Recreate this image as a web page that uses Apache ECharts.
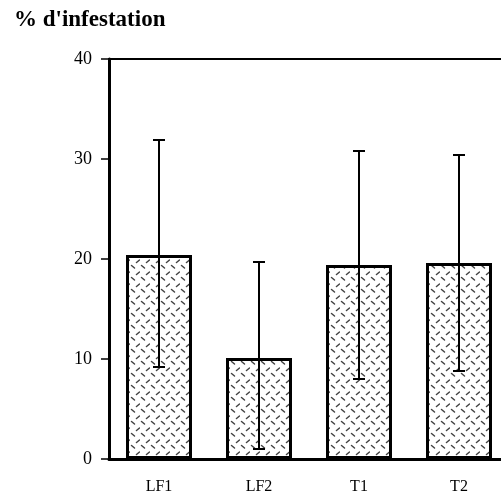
<!DOCTYPE html>
<html><head><meta charset="utf-8">
<script src="https://cdn.jsdelivr.net/npm/echarts@6/dist/echarts.min.js"></script>
<style>html,body{margin:0;padding:0;background:#fff}#c{width:501px;height:493px}</style>
</head><body><div id="c"></div>
<script>
const categories = ['LF1', 'LF2', 'T1', 'T2'];
const means = [20.4, 10.1, 19.4, 19.6];
const lows = [9.2, 1.0, 8.0, 8.8];
const highs = [31.9, 19.7, 30.8, 30.4];
const yTicks = [0, 10, 20, 30, 40];

function makePattern() {
  const c = document.createElement('canvas');
  c.width = 10; c.height = 12;
  const g = c.getContext('2d');
  g.fillStyle = '#fff'; g.fillRect(0, 0, 10, 12);
  g.strokeStyle = '#444'; g.lineWidth = 1.5; g.lineCap = 'round';
  g.beginPath(); g.moveTo(1.5, 1.5); g.lineTo(4.5, 4); g.stroke();
  g.beginPath(); g.moveTo(6.5, 10.5); g.lineTo(9.5, 8); g.stroke();
  return c;
}

const chart = echarts.init(document.getElementById('c'), null, {renderer: 'canvas'});
const font = '"Liberation Serif", "Times New Roman", serif';
chart.setOption({
  animation: false,
  title: {
    text: "% d'infestation", left: 9, top: 4,
    textStyle: {fontFamily: font, fontWeight: 'bold', fontSize: 23, color: '#000'}
  },
  grid: {left: 109, top: 59, width: 400, height: 400, outerBoundsMode: 'none', containLabel: false,
    show: true, borderColor: '#000', borderWidth: 2, backgroundColor: 'transparent'},
  xAxis: {
    type: 'category', data: categories, boundaryGap: true,
    axisLine: {lineStyle: {color: '#000', width: 3}},
    axisTick: {alignWithLabel: true, length: 9, lineStyle: {color: '#000', width: 1.5}},
    axisLabel: {fontFamily: font, fontSize: 16, color: '#000', margin: 20}
  },
  yAxis: {
    type: 'value', min: yTicks[0], max: yTicks[yTicks.length - 1], interval: 10,
    splitLine: {show: false},
    axisLine: {show: true, lineStyle: {color: '#000', width: 3}},
    axisTick: {show: true, length: 8, lineStyle: {color: '#000', width: 1.5}},
    axisLabel: {fontFamily: font, fontSize: 18, color: '#000', margin: 17}
  },
  series: [
    {
      type: 'bar', data: means, barWidth: 66,
      itemStyle: {color: {image: makePattern(), repeat: 'repeat'}, borderColor: '#000', borderWidth: 3}
    },
    {
      type: 'custom', z: 10,
      data: categories.map((c, i) => [i, lows[i], highs[i]]),
      renderItem: function (params, api) {
        const x = api.value(0);
        const pHi = api.coord([x, api.value(2)]);
        const pLo = api.coord([x, api.value(1)]);
        const hw = 6;
        const st = {stroke: '#000', lineWidth: 2};
        return {type: 'group', children: [
          {type: 'line', shape: {x1: pHi[0], y1: pHi[1], x2: pLo[0], y2: pLo[1]}, style: st},
          {type: 'line', shape: {x1: pHi[0] - hw, y1: pHi[1], x2: pHi[0] + hw, y2: pHi[1]}, style: st},
          {type: 'line', shape: {x1: pLo[0] - hw, y1: pLo[1], x2: pLo[0] + hw, y2: pLo[1]}, style: st}
        ]};
      }
    }
  ]
});
</script></body></html>
